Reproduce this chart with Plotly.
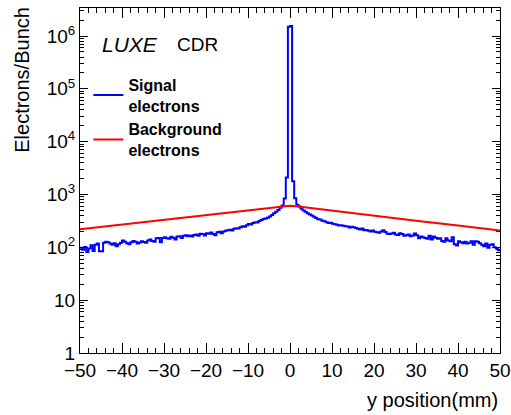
import numpy as np
import plotly.graph_objects as go

# ---- data ----
bin_edges = np.linspace(-50, 50, 201)  # 0.5 mm bins
signal_counts = [
    98, 90, 102, 82, 95, 110, 85, 112, 118, 84,
    84, 122, 128, 125, 118, 112, 120, 105, 115, 122,
    135, 128, 120, 115, 125, 132, 128, 118, 124, 130,
    126, 122, 135, 140, 132, 128, 148, 150, 125, 150,
    155, 148, 145, 158, 152, 140, 160, 162, 150, 165,
    170, 162, 168, 160, 172, 175, 165, 180, 178, 168,
    185, 180, 190, 178, 170, 192, 198, 185, 200, 205,
    210, 215, 208, 225, 230, 228, 240, 250, 245, 262,
    275, 270, 290, 300, 295, 315, 330, 345, 350, 365,
    385, 410, 440, 470, 510, 560, 620, 840, 2100, 1500000,
    1550000, 1780, 850, 640, 590, 540, 500, 470, 440, 420,
    400, 380, 360, 340, 335, 320, 312, 300, 290, 292,
    280, 272, 268, 260, 262, 255, 250, 248, 238, 245,
    240, 232, 225, 218, 228, 210, 212, 205, 200, 208,
    198, 192, 188, 200, 210, 195, 180, 178, 182, 188,
    175, 172, 185, 178, 165, 170, 175, 162, 168, 182,
    170, 148, 160, 155, 150, 145, 165, 140, 160, 152,
    145, 148, 132, 128, 148, 135, 130, 155, 115, 108,
    130, 125, 120, 128, 118, 122, 130, 112, 130, 128,
    120, 112, 105, 118, 98, 112, 115, 100, 95, 88,
]
bg_x = [-50, -40, -30, -20, -10, -5, -2, 0, 2, 5, 10, 20, 30, 40, 50]
bg_y = [219, 269, 331, 406, 499, 550, 590, 615, 595, 555, 500, 400, 320, 258, 209]

x_ticks = list(range(-50, 51, 10))
y_ticks = [1, 10, 100, 1e3, 1e4, 1e5, 1e6]
y_ticktext = ["1", "10", "10<sup>2</sup>", "10<sup>3</sup>", "10<sup>4</sup>",
              "10<sup>5</sup>", "10<sup>6</sup>"]
y_minor = [m * 10 ** d for d in range(0, 7) for m in range(2, 10)]

FONT = "Liberation Sans, Arial, sans-serif"

fig = go.Figure()
fig.add_trace(go.Scatter(
    x=bin_edges, y=signal_counts + [signal_counts[-1]], mode="lines",
    line=dict(color="#0000ff", width=2, shape="hv"),
    name="Signal<br>electrons"))
fig.add_trace(go.Scatter(
    x=bg_x, y=bg_y, mode="lines",
    line=dict(color="#ff0000", width=2),
    name="Background<br>electrons"))

axis_common = dict(showgrid=False, zeroline=False, showline=True, linecolor="black",
                   linewidth=1, mirror="allticks", ticks="inside", tickcolor="black",
                   automargin=False,
                   tickfont=dict(family=FONT, size=19, color="black"))

fig.update_xaxes(range=[-50, 50], tickvals=x_ticks, ticklen=10,
                 minor=dict(dtick=2, ticks="inside", ticklen=5, tickcolor="black"),
                 **axis_common)
fig.update_yaxes(type="log", range=[0, 6.53], tickvals=y_ticks, ticktext=y_ticktext,
                 ticklen=8,
                 minor=dict(tickvals=y_minor, ticks="inside", ticklen=4, tickcolor="black"),
                 **axis_common)

fig.update_layout(
    width=511, height=415,
    margin=dict(l=80, r=11, t=8, b=62),
    paper_bgcolor="white", plot_bgcolor="white",
    font=dict(family=FONT, color="black"),
    showlegend=True,
    legend=dict(x=0.02, y=0.827, xanchor="left", yanchor="top",
                bgcolor="rgba(0,0,0,0)",
                font=dict(family=FONT, size=16, color="black", weight="bold")),
    annotations=[
        dict(text="<i>LUXE</i>", x=0.048, y=0.893, xref="paper", yref="paper",
             xanchor="left", yanchor="middle", showarrow=False,
             font=dict(family=FONT, size=21)),
        dict(text="CDR", x=0.226, y=0.893, xref="paper", yref="paper",
             xanchor="left", yanchor="middle", showarrow=False,
             font=dict(family=FONT, size=19)),
        dict(text="Electrons/Bunch", x=-0.14, y=1.01, xref="paper", yref="paper",
             xanchor="center", yanchor="top", textangle=-90, showarrow=False,
             font=dict(family=FONT, size=20)),
        dict(text="y position(mm)", x=1.0, y=-0.136, xref="paper", yref="paper",
             xanchor="right", yanchor="middle", showarrow=False,
             font=dict(family=FONT, size=20)),
    ],
)

fig.write_html("out.html", config={"displayModeBar": False},
               post_script="document.body.style.margin='0';")
